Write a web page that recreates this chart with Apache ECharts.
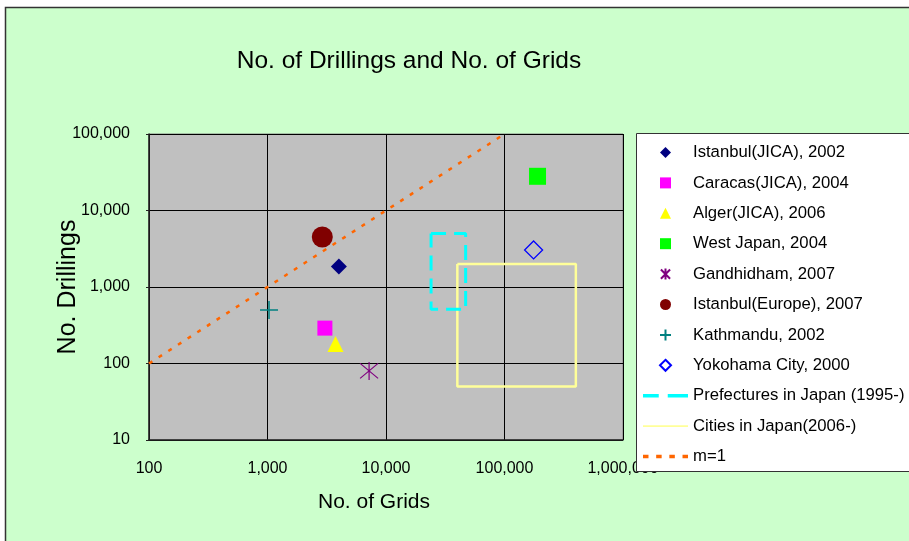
<!DOCTYPE html>
<html>
<head>
<meta charset="utf-8">
<script src="https://cdn.jsdelivr.net/npm/echarts@6/dist/echarts.min.js"></script>
<style>
html,body{margin:0;padding:0;background:#fff;overflow:hidden;}
#c{width:909px;height:541px;}
</style>
</head>
<body>
<div id="c"></div>
<script>
// ---- data ----
const seriesNames = [
  'Istanbul(JICA), 2002', 'Caracas(JICA), 2004', 'Alger(JICA), 2006',
  'West Japan, 2004', 'Gandhidham, 2007', 'Istanbul(Europe), 2007',
  'Kathmandu, 2002', 'Yokohama City, 2000',
  'Prefectures in Japan (1995-)', 'Cities in Japan(2006-)', 'm=1'
];
// [No. of Grids, No. of Drillings]
const istanbulJica = [[4000, 1850]];
const caracas = [[3050, 290]];
const alger = [[3750, 180]];
const westJapan = [[190000, 28000]];
const gandhidham = [[7200, 80]];
const istanbulEurope = [[2900, 4500]];
const kathmandu = [[1030, 500]];
const yokohama = [[176000, 3050]];
const prefectures = [[24000, 5000], [47000, 5000], [47000, 510], [24000, 510], [24000, 5000]];
const cities = [[40000, 2000], [400000, 2000], [400000, 50], [40000, 50], [40000, 2000]];
const m1 = [[100, 100], [100000, 100000]];
const xTicks = [100, 1000, 10000, 100000, 1000000];
const yTicks = [10, 100, 1000, 10000, 100000];

const fmt = v => Math.round(v).toLocaleString('en-US');
const FONT = 'Liberation Sans, Arial, sans-serif';

const diamondPath = 'path://M5,0L10,5L5,10L0,5Z';
const squarePath = 'path://M0,0L10,0L10,10L0,10Z';
const trianglePath = 'path://M5,0L10,10L0,10Z';
const starPath = 'path://M0,0L10,10M10,0L0,10M5,-1L5,11';
const plusPath = 'path://M5,0L5,10M0,5L10,5';
const circlePath = 'path://M10,5A5,5,0,1,1,0,5A5,5,0,1,1,10,5Z';
// legend icons for the line series (dash patterns drawn as filled bars)
const dashIcon = 'path://M0,0h14v3h-14zM22,0h18v3h-18z';
const solidIcon = 'path://M0,0h47v2h-47z';
const dotIcon = 'path://M0,0h5v3h-5zM12,0h5v3h-5zM24,0h5v3h-5zM36,0h5v3h-5z';

function sc(name, data, symbol, size, itemStyle) {
  return { name, type: 'scatter', data, symbol, symbolSize: size,
           itemStyle: Object.assign({ opacity: 1 }, itemStyle), z: 5 };
}

const chart = echarts.init(document.getElementById('c'), null, {renderer: 'canvas'});
chart.setOption({
  backgroundColor: '#ffffff',
  animation: false,
  textStyle: { fontFamily: FONT },
  title: {
    text: 'No. of Drillings and No. of Grids',
    left: 404, top: 44, textAlign: 'center',
    textStyle: { fontSize: 24.5, fontWeight: 'normal', color: '#000', fontFamily: FONT }
  },
  graphic: [
    { type: 'rect', z: -10, shape: { x: 5.5, y: 7.5, width: 960, height: 600 },
      style: { fill: '#CCFFCC', stroke: '#333', lineWidth: 1.5 } },
    { type: 'rect', z: 10, shape: { x: 636.5, y: 133.5, width: 300, height: 338 },
      style: { fill: '#ffffff', stroke: '#333', lineWidth: 1 } }
  ],
  grid: {
    left: 149, top: 134, width: 474, height: 306,
    show: true, backgroundColor: '#C0C0C0', borderColor: '#808080', borderWidth: 1
  },
  xAxis: {
    type: 'log', logBase: 10, min: 100, max: 1000000,
    name: 'No. of Grids', nameLocation: 'middle', nameGap: 52,
    nameTextStyle: { fontSize: 21, color: '#000', fontFamily: FONT, padding: [0, 24, 0, 0] },
    axisLine: { lineStyle: { color: '#222', width: 1.5 } },
    axisTick: { show: false },
    axisLabel: { formatter: fmt, fontSize: 16, color: '#000', margin: 21, fontFamily: FONT },
    splitLine: { show: true, lineStyle: { color: '#000', width: 1 } }
  },
  yAxis: {
    type: 'log', logBase: 10, min: 10, max: 100000,
    name: 'No. Drillings', nameLocation: 'middle', nameGap: 68, nameMoveOverlap: false,
    nameTextStyle: { fontSize: 25, color: '#000', fontFamily: FONT },
    axisLine: { lineStyle: { color: '#222', width: 1.5 } },
    axisTick: { show: true, length: 3, lineStyle: { color: '#222' } },
    axisLabel: { formatter: fmt, fontSize: 16, color: '#000', margin: 19, fontFamily: FONT },
    splitLine: { show: true, lineStyle: { color: '#000', width: 1 } }
  },
  legend: {
    orient: 'vertical', left: 638, top: 139, z: 20,
    itemWidth: 45, itemHeight: 11, itemGap: 13.4,
    textStyle: { fontSize: 16.7, color: '#000', fontFamily: FONT },
    data: [
      { name: seriesNames[0], icon: diamondPath },
      { name: seriesNames[1], icon: squarePath },
      { name: seriesNames[2], icon: trianglePath },
      { name: seriesNames[3], icon: squarePath },
      { name: seriesNames[4], icon: starPath },
      { name: seriesNames[5], icon: circlePath },
      { name: seriesNames[6], icon: plusPath },
      { name: seriesNames[7], icon: diamondPath },
      { name: seriesNames[8], icon: dashIcon },
      { name: seriesNames[9], icon: solidIcon },
      { name: seriesNames[10], icon: dotIcon }
    ]
  },
  series: [
    sc(seriesNames[0], istanbulJica, 'diamond', 16, { color: '#000080' }),
    sc(seriesNames[1], caracas, 'rect', 15, { color: '#FF00FF' }),
    sc(seriesNames[2], alger, 'triangle', 16, { color: '#FFFF00' }),
    sc(seriesNames[3], westJapan, 'rect', 17, { color: '#00FF00' }),
    sc(seriesNames[4], gandhidham, starPath, 18, { color: 'none', borderColor: '#800080', borderWidth: 1.2 }),
    sc(seriesNames[5], istanbulEurope, 'circle', 21, { color: '#800000' }),
    sc(seriesNames[6], kathmandu, plusPath, 18, { color: 'none', borderColor: '#008080', borderWidth: 1.5 }),
    sc(seriesNames[7], yokohama, 'diamond', 18, { color: 'rgba(0,0,0,0)', borderColor: '#0000FF', borderWidth: 1.3 }),
    { name: seriesNames[8], type: 'line', data: prefectures, symbol: 'none', z: 4,
      lineStyle: { color: '#00FFFF', width: 3, type: [15, 8] }, itemStyle: { color: '#00FFFF' } },
    { name: seriesNames[9], type: 'line', data: cities, symbol: 'none', z: 3,
      lineStyle: { color: '#FFFF99', width: 2.5 }, itemStyle: { color: '#FFFF99' } },
    { name: seriesNames[10], type: 'line', data: m1, symbol: 'none', z: 3,
      lineStyle: { color: '#FF6600', width: 2.5, type: [4, 7.5] }, itemStyle: { color: '#FF6600' } }
  ]
});
</script>
</body>
</html>
